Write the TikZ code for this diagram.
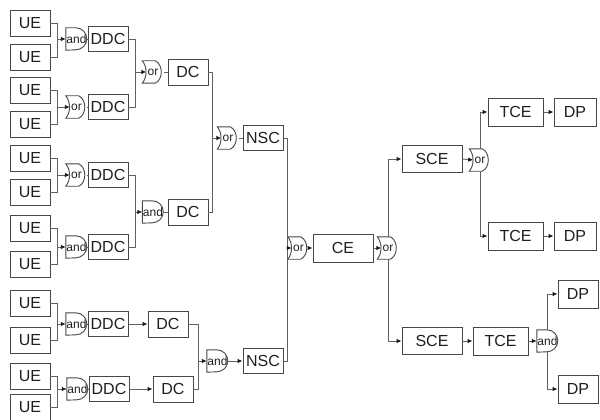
\documentclass[tikz,border=0pt]{standalone}
\usepackage{fontspec}
\setmainfont{Liberation Sans}
\usetikzlibrary{arrows.meta,calc}
\tikzset{
  box/.style={draw=black!72, line width=0.9pt, minimum height=26pt, minimum width=40pt, inner sep=0pt, font=\fontsize{16}{16}\selectfont, text=black!88},
  widebox/.style={box, minimum width=60pt, minimum height=28pt},
  tcebox/.style={box, minimum width=55pt, minimum height=28pt},
  dpbox/.style={box, minimum width=42pt, minimum height=28pt},
  gate/.style={minimum width=21pt, minimum height=22pt, inner sep=0pt, font=\fontsize{12}{12}\selectfont, text=black!88},
  gline/.style={draw=black!72, line width=0.9pt},
  wire/.style={draw=black!62, line width=0.9pt},
  arr/.style={wire, -{Latex[length=5pt,width=4.5pt,color=black!90]}}
}
\newcommand\andshape[1]{%
  \draw[gline] (#1.north west) -- ($(#1.north west)+(10pt,0)$) arc[start angle=90,end angle=-90,radius=11pt] -- (#1.south west) -- cycle;
  \coordinate (#1-in) at (#1.west);}
\newcommand\orshape[1]{%
  \draw[gline] (#1.north west) -- ($(#1.north west)+(13pt,0)$)
    .. controls ($(#1.north west)+(21pt,-4pt)$) and ($(#1.south west)+(21pt,4pt)$) .. ($(#1.south west)+(13pt,0)$)
    -- (#1.south west)
    .. controls ($(#1.south west)+(5pt,6pt)$) and ($(#1.north west)+(5pt,-6pt)$) .. cycle;
  \coordinate (#1-in) at ($(#1.west)+(4pt,0)$);}
\begin{document}
\begin{tikzpicture}[x=1pt,y=-1pt]
\useasboundingbox (0,0) rectangle (600,420);
% UE leaves
\foreach \n/\y in {1/23,2/57,3/90,4/124,5/158,6/192,7/228,8/264,9/303,10/340,11/376,12/407}
  \node[box] (u\n) at (30,\y) {UE};
% level 1 gates and DDC
\node[gate] (g1) at (76.5,39) {and}; \andshape{g1}
\node[gate] (g2) at (76.5,107) {or}; \orshape{g2}
\node[gate] (g3) at (76.5,175) {or}; \orshape{g3}
\node[gate] (g4) at (76.5,247) {and}; \andshape{g4}
\node[gate] (g5) at (76.5,324) {and}; \andshape{g5}
\node[gate] (g6) at (77.5,389) {and}; \andshape{g6}
\foreach \n/\y in {1/39,2/107,3/175,4/247,5/324}
  \node[box, minimum height=25pt] (d\n) at (108,\y) {DDC};
\node[box, minimum height=25pt] (d6) at (109,389) {DDC};
\foreach \n/\a/\b/\y in {1/1/2/39,2/3/4/107,3/5/6/175,4/7/8/247,5/9/10/324,6/11/12/389}{
  \coordinate (j\n) at (57,\y);
  \draw[wire] (u\a.east) -| (j\n);
  \draw[wire] (u\b.east) -| (j\n);
  \draw[arr] (j\n) -- (g\n-in);
  \draw[wire] (g\n.east) -- (d\n.west);
}
% level 2 upper
\node[gate] (h1) at (153,72) {or}; \orshape{h1}
\node[gate] (h2) at (153,212) {and}; \andshape{h2}
\node[box] (c1) at (188,72) {DC};
\node[box] (c2) at (188,212) {DC};
\coordinate (k1) at (135,72);
\coordinate (k2) at (135,212);
\draw[wire] (d1.east) -| (k1); \draw[wire] (d2.east) -| (k1);
\draw[wire] (d3.east) -| (k2); \draw[wire] (d4.east) -| (k2);
\draw[arr] (k1) -- (h1-in); \draw[wire] (h1.east) -- (c1.west);
\draw[arr] (k2) -- (h2-in); \draw[wire] (h2.east) -- (c2.west);
% level 2 lower
\node[box] (c3) at (168,324) {DC};
\node[box] (c4) at (173,389) {DC};
\draw[arr] (d5.east) -- (c3.west);
\draw[arr] (d6.east) -- (c4.west);
% level 3
\node[gate] (n1) at (228,138) {or}; \orshape{n1}
\node[box, minimum height=25pt] (s1) at (263,138) {NSC};
\coordinate (m1) at (212,138);
\draw[wire] (c1.east) -| (m1); \draw[wire] (c2.east) -| (m1);
\draw[arr] (m1) -- (n1-in); \draw[wire] (n1.east) -- (s1.west);
\node[gate] (n2) at (217.5,361) {and}; \andshape{n2}
\node[box, minimum height=25pt] (s2) at (263,361) {NSC};
\coordinate (m2) at (198,361);
\draw[wire] (c3.east) -| (m2); \draw[wire] (c4.east) -| (m2);
\draw[arr] (m2) -- (n2-in); \draw[arr] (n2.east) -- (s2.west);
% level 4
\node[gate] (q) at (298.5,248) {or}; \orshape{q}
\node[widebox] (ce) at (343,248) {CE};
\coordinate (p) at (287,248);
\draw[wire] (s1.east) -| (p); \draw[wire] (s2.east) -| (p);
\draw[arr] (p) -- (q-in); \draw[arr] (q.east) -- (ce.west);
% right part
\node[gate] (r) at (388,248) {or}; \orshape{r}
\draw[arr] (ce.east) -- (r-in);
\node[widebox, minimum height=27pt] (e1) at (432,159) {SCE};
\node[widebox, minimum height=27pt] (e2) at (432,341) {SCE};
\draw[arr] (r.north) |- (e1.west);
\draw[arr] (r.south) |- (e2.west);
\node[gate] (t) at (480,160) {or}; \orshape{t}
\draw[arr] (e1.east) -- (t-in);
\node[tcebox] (f1) at (515.5,112) {TCE};
\node[tcebox] (f2) at (515.5,236) {TCE};
\draw[arr] (t.north) |- (f1.west);
\draw[arr] (t.south) |- (f2.west);
\node[dpbox] (dp1) at (575,112) {DP};
\node[dpbox] (dp2) at (575,236) {DP};
\draw[arr] (f1.east) -- (dp1.west);
\draw[arr] (f2.east) -- (dp2.west);
\node[tcebox] (f3) at (500.5,341) {TCE};
\draw[arr] (e2.east) -- (f3.west);
\node[gate] (v) at (547.5,341) {and}; \andshape{v}
\draw[arr] (f3.east) -- (v-in);
\node[dpbox, minimum width=40pt] (dp3) at (578,294) {DP};
\node[dpbox, minimum width=40pt] (dp4) at (578,389) {DP};
\draw[arr] (v.north) |- (dp3.west);
\draw[arr] (v.south) |- (dp4.west);
\end{tikzpicture}
\end{document}
